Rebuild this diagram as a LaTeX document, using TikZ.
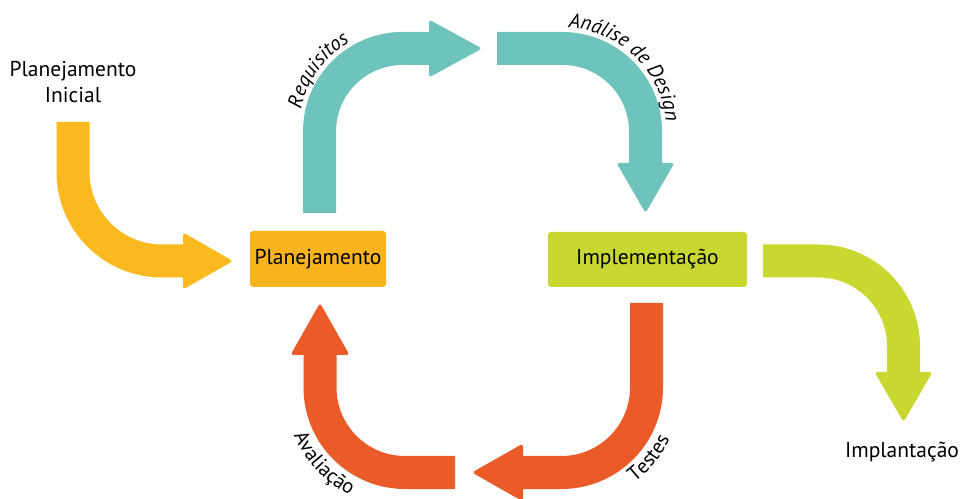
\documentclass[tikz,border=0pt]{standalone}
\usepackage{fontspec}
\setmainfont{PT Sans}
\usetikzlibrary{decorations.text}

\definecolor{cyellow}{RGB}{251,184,31}
\definecolor{cbox}{RGB}{249,179,28}
\definecolor{cteal}{RGB}{110,196,188}
\definecolor{clime}{RGB}{201,216,48}
\definecolor{corange}{RGB}{235,91,39}

\tikzset{
  shaft/.style={line width=33pt, line cap=butt, draw=#1},
  head/.style={fill=#1, rounded corners=3pt},
  stage/.style={fill=#1, rounded corners=3pt, minimum width=136pt, minimum height=56pt,
    inner sep=0pt, font=\fontsize{21.5}{26}\selectfont},
  label/.style={font=\fontsize{21.5}{26}\selectfont, align=center},
}

\begin{document}
\begin{tikzpicture}[x=1pt,y=1pt]
\useasboundingbox (0,0) rectangle (961,498);
\clip (0,0) rectangle (961,498);

% stage boxes
\node[stage=cbox] (plan) at (318,239) {Planejamento};
\node[stage=clime, minimum width=199pt, minimum height=55pt] (impl) at (647.5,238.5) {Implementação};

% free labels
\node[label] (ini) at (73,416) {Planejamento\\Inicial};
\node[label, anchor=base] (impla) at (902,41) {Implantação};

% ---- initial planning arrow (yellow)
\coordinate (y0) at (73,376);
\coordinate (y1) at (73,326);
\coordinate (yb) at (183,237);
\coordinate (yt) at (233,237);
\draw[shaft=cyellow] (y0) -- (y1) arc[start angle=180, end angle=270, radius=89] -- (yb);
\fill[head=cyellow] (yt) -- (183,265.5) -- (183,208.5) -- cycle;

% ---- requirements arrow (teal, left)
\coordinate (r0) at (319.5,285);
\coordinate (r1) at (319.5,366.5);
\coordinate (rc) at (402.5,366.5);
\coordinate (rb) at (429,449.5);
\coordinate (rt) at (482,449.5);
\draw[shaft=cteal] (r0) -- (r1) arc[start angle=180, end angle=90, radius=83] -- (rb);
\fill[head=cteal] (rt) -- (429,478.5) -- (429,420.5) -- cycle;
\path[decorate, decoration={text along path, text align=center,
  text={|\fontsize{20.5}{24}\selectfont\itshape|Requisitos}}]
  (rc) ++(192:104) arc[start angle=192, end angle=96, radius=104];

% ---- analysis & design arrow (teal, right)
\coordinate (a0) at (497,449.5);
\coordinate (a1) at (562.5,449.5);
\coordinate (ac) at (562.5,366.5);
\coordinate (ab) at (645.5,335);
\coordinate (at) at (645.5,285);
\draw[shaft=cteal] (a0) -- (a1) arc[start angle=90, end angle=0, radius=83] -- (ab);
\fill[head=cteal] (at) -- (616.5,335) -- (674.5,335) -- cycle;
\path[decorate, decoration={text along path, text align=center,
  text={|\fontsize{20.5}{24}\selectfont\itshape|Análise de Design}}]
  (ac) ++(96:104) arc[start angle=96, end angle=-4, radius=104];

% ---- deployment arrow (lime)
\coordinate (l0) at (763,237);
\coordinate (l1) at (818.5,237);
\coordinate (lb) at (903.5,126);
\coordinate (lt) at (903.5,76);
\draw[shaft=clime] (l0) -- (l1) arc[start angle=90, end angle=0, radius=85] -- (lb);
\fill[head=clime] (lt) -- (874.5,126) -- (932.5,126) -- cycle;

% ---- testing arrow (orange, right)
\coordinate (t0) at (646.5,195);
\coordinate (t1) at (646.5,110.5);
\coordinate (tc) at (561.5,110.5);
\coordinate (tb) at (523,25.5);
\coordinate (tt) at (472,25.5);
\draw[shaft=corange] (t0) -- (t1) arc[start angle=0, end angle=-90, radius=85] -- (tb);
\fill[head=corange] (tt) -- (523,54.5) -- (523,-3.5) -- cycle;
\path[decorate, decoration={text along path, text align=center,
  text={|\fontsize{20.5}{24}\selectfont|Testes}}]
  (tc) ++(276:120) arc[start angle=276, end angle=366, radius=120];

% ---- evaluation arrow (orange, left)
\coordinate (e0) at (455,25.5);
\coordinate (e1) at (405,25.5);
\coordinate (ec) at (405,110.5);
\coordinate (eb) at (320,143);
\coordinate (et) at (320,195);
\draw[shaft=corange] (e0) -- (e1) arc[start angle=270, end angle=180, radius=85] -- (eb);
\fill[head=corange] (et) -- (290.5,143) -- (349.5,143) -- cycle;
\path[decorate, decoration={text along path, text align=center,
  text={|\fontsize{20.5}{24}\selectfont|Avaliação}}]
  (ec) ++(178:121) arc[start angle=178, end angle=268, radius=121];
\end{tikzpicture}
\end{document}
